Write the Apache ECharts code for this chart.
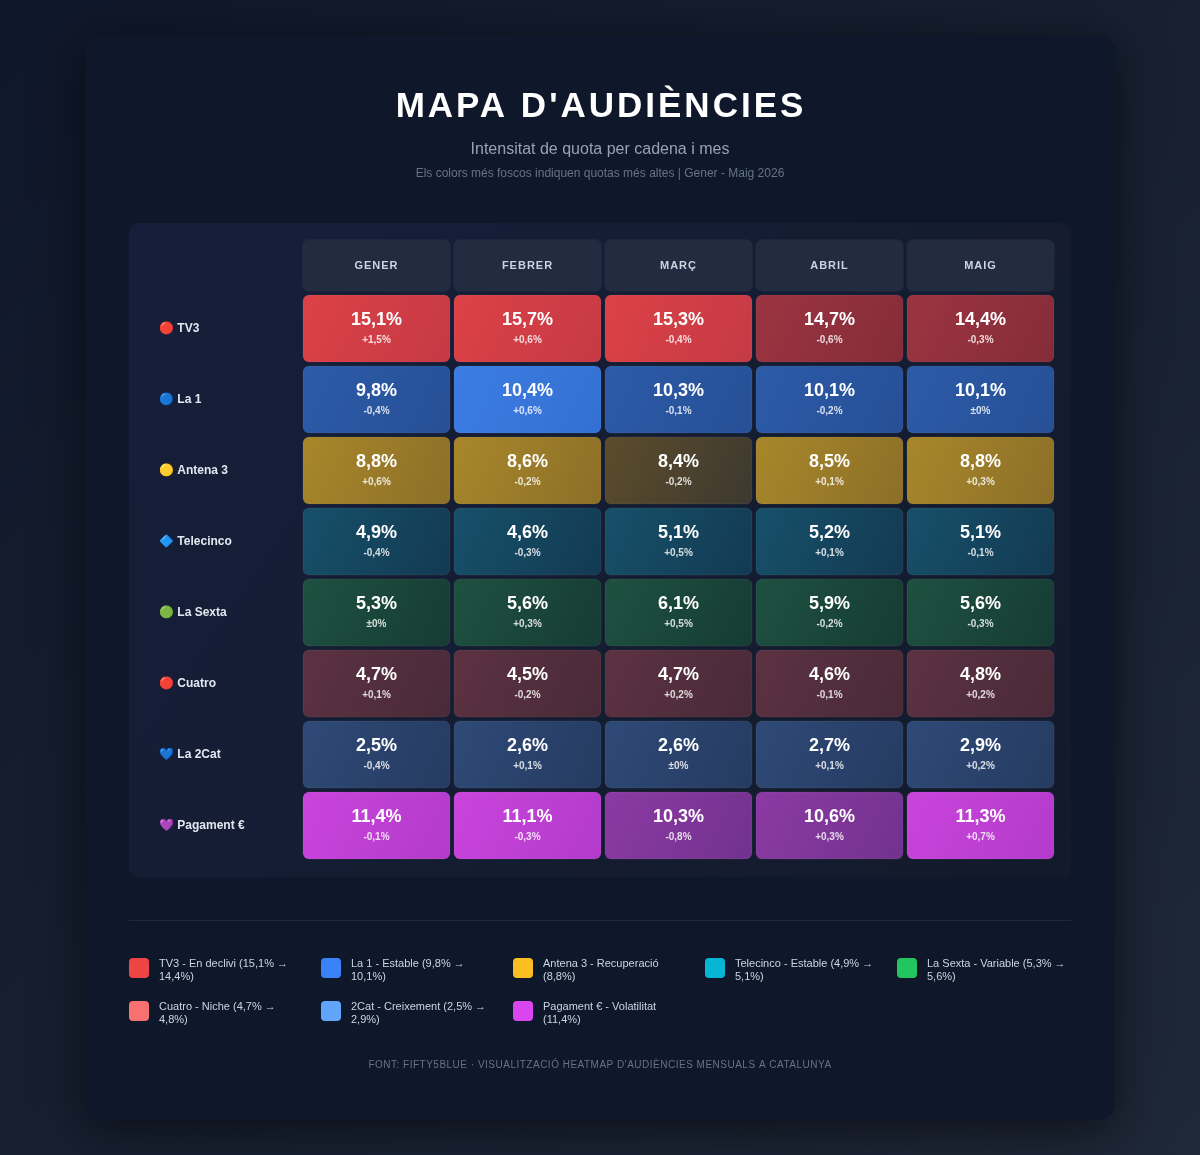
<!DOCTYPE html>
<html>
<head>
<meta charset="utf-8">
<script src="https://cdn.jsdelivr.net/npm/echarts@6/dist/echarts.min.js"></script>
<style>
html,body{margin:0;padding:0;width:1200px;height:1155px;overflow:hidden;background:#0f172a;}
#chart{width:1200px;height:1155px;}
</style>
</head>
<body>
<div id="chart"></div>
<script>
// ---------- DATA ----------
const months = ['GENER', 'FEBRER', 'MARÇ', 'ABRIL', 'MAIG'];
const channels = ['🔴 TV3', '🔵 La 1', '🟡 Antena 3', '🔷 Telecinco', '🟢 La Sexta', '🔴 Cuatro', '💙 La 2Cat', '💜 Pagament €'];
const shareTV3       = [15.1, 15.7, 15.3, 14.7, 14.4];
const shareLa1       = [9.8, 10.4, 10.3, 10.1, 10.1];
const shareAntena3   = [8.8, 8.6, 8.4, 8.5, 8.8];
const shareTelecinco = [4.9, 4.6, 5.1, 5.2, 5.1];
const shareLaSexta   = [5.3, 5.6, 6.1, 5.9, 5.6];
const shareCuatro    = [4.7, 4.5, 4.7, 4.6, 4.8];
const shareLa2Cat    = [2.5, 2.6, 2.6, 2.7, 2.9];
const sharePagament  = [11.4, 11.1, 10.3, 10.6, 11.3];
const deltaTV3       = [1.5, 0.6, -0.4, -0.6, -0.3];
const deltaLa1       = [-0.4, 0.6, -0.1, -0.2, 0];
const deltaAntena3   = [0.6, -0.2, -0.2, 0.1, 0.3];
const deltaTelecinco = [-0.4, -0.3, 0.5, 0.1, -0.1];
const deltaLaSexta   = [0, 0.3, 0.5, -0.2, -0.3];
const deltaCuatro    = [0.1, -0.2, 0.2, -0.1, 0.2];
const deltaLa2Cat    = [-0.4, 0.1, 0, 0.1, 0.2];
const deltaPagament  = [-0.1, -0.3, -0.8, 0.3, 0.7];
const legendLabels = [
  'TV3 - En declivi (15,1% → 14,4%)',
  'La 1 - Estable (9,8% → 10,1%)',
  'Antena 3 - Recuperació (8,8%)',
  'Telecinco - Estable (4,9% → 5,1%)',
  'La Sexta - Variable (5,3% → 5,6%)',
  'Cuatro - Niche (4,7% → 4,8%)',
  '2Cat - Creixement (2,5% → 2,9%)',
  'Pagament € - Volatilitat (11,4%)'
];

// ---------- STYLE ----------
const legendColors = ['#ef4444', '#3b82f6', '#fbbf24', '#06b6d4', '#22c55e', '#f87171', '#60a5fa', '#d946ef'];
// per channel: [base gradient, bright gradient], bright when value >= threshold
const cellPalette = [
  [['#9c3441', '#852c39'], ['#dc4146', '#c53a45']],
  [['#2d5ba8', '#264f96'], ['#3c7ce2', '#3470d3']],
  [['#5c4c2b', '#3d3930'], ['#a8872a', '#8c6f28']],
  [['#17506a', '#133a52'], ['#17506a', '#133a52']],
  [['#1e5141', '#163c33'], ['#1e5141', '#163c33']],
  [['#5c3242', '#4a2a38'], ['#5c3242', '#4a2a38']],
  [['#2f4a77', '#253b61'], ['#2f4a77', '#253b61']],
  [['#8b3aa3', '#72328e'], ['#c944db', '#b33bcb']]
];
const brightFrom = [15.0, 10.4, 8.5, Infinity, Infinity, Infinity, Infinity, 11.0];

const FONT = '"Liberation Sans", Arial, Helvetica, sans-serif';
const TITLE_FONT = 'bold 35px ' + FONT;
const HEADER_FONT = 'bold 11px ' + FONT;
const FOOTER_FONT = '10px ' + FONT;
const LEGEND_FONT = '11px ' + FONT;

// letter spacing for a few text styles (canvas letterSpacing), explicit for every draw
(function () {
  const t = document.createElement('canvas').getContext('2d');
  if (!('letterSpacing' in t)) return;
  const norm = f => { t.font = f; return t.font; };
  const spacing = {};
  spacing[norm(TITLE_FONT)] = '3px';
  spacing[norm(HEADER_FONT)] = '1px';
  spacing[norm(FOOTER_FONT)] = '0.5px';
  const P = CanvasRenderingContext2D.prototype;
  const orig = P.fillText;
  P.fillText = function (txt, x, y, m) {
    const f = this.font;
    const ls = spacing[f] || '0px';
    this.letterSpacing = ls;
    this.font = f;
    if (m === undefined) orig.call(this, txt, x, y); else orig.call(this, txt, x, y, m);
    this.letterSpacing = '0px';
    this.font = f;
  };
})();

const shares = [shareTV3, shareLa1, shareAntena3, shareTelecinco, shareLaSexta, shareCuatro, shareLa2Cat, sharePagament];
const deltas = [deltaTV3, deltaLa1, deltaAntena3, deltaTelecinco, deltaLaSexta, deltaCuatro, deltaLa2Cat, deltaPagament];

const fmtPct = v => v.toFixed(1).replace('.', ',') + '%';
const fmtDelta = d => d === 0 ? '±0%' : (d > 0 ? '+' : '-') + Math.abs(d).toFixed(1).replace('.', ',') + '%';

const cells = [];
const cellDelta = [];
shares.forEach((row, i) => row.forEach((v, j) => { cells.push([j, i, v]); cellDelta.push(deltas[i][j]); }));

// greedy word wrap
const mctx = document.createElement('canvas').getContext('2d');
mctx.font = LEGEND_FONT;
function wrap(text, maxW) {
  const words = text.split(' ');
  const lines = [];
  let cur = '';
  words.forEach(w => {
    const test = cur ? cur + ' ' + w : w;
    if (cur && mctx.measureText(test).width > maxW) { lines.push(cur); cur = w; } else cur = test;
  });
  if (cur) lines.push(cur);
  return lines.join('\n');
}

const chart = echarts.init(document.getElementById('chart'), null, {renderer: 'canvas'});

const legendGraphics = [];
legendLabels.forEach((t, k) => {
  const col = k % 5, row = Math.floor(k / 5);
  const x = 129 + col * 192, y = 958 + row * 43;
  legendGraphics.push({
    type: 'rect', shape: {x: x, y: y, width: 20, height: 20, r: 4},
    style: {fill: legendColors[k]}, z: 10
  });
  legendGraphics.push({
    type: 'text', x: x + 30, y: y - 1,
    style: {text: wrap(t, 140), fill: '#cbd5e1', font: LEGEND_FONT, lineHeight: 13, verticalAlign: 'top', align: 'left'},
    z: 10
  });
});

const option = {
  backgroundColor: new echarts.graphic.LinearGradient(0, 0, 1, 1, [
    {offset: 0, color: '#0f172a'}, {offset: 1, color: '#1f2838'}
  ]),
  animation: false,
  graphic: [
    {type: 'rect', shape: {x: 85, y: 35, width: 1030, height: 1085, r: 16},
     style: {fill: '#0f172a', shadowBlur: 50, shadowColor: 'rgba(0,0,0,0.55)', shadowOffsetY: 10}, z: -10},
    {type: 'rect', shape: {x: 129, y: 223, width: 942, height: 654, r: 10},
     style: {fill: new echarts.graphic.LinearGradient(0, 0, 1, 1, [
       {offset: 0, color: '#161f3a'}, {offset: 1, color: '#131a2b'}])}, z: -9},
    {type: 'text', x: 601, y: 107, style: {text: "MAPA D'AUDIÈNCIES", fill: '#ffffff', font: TITLE_FONT, align: 'center', verticalAlign: 'middle'}},
    {type: 'text', x: 600, y: 150, style: {text: 'Intensitat de quota per cadena i mes', fill: '#94a3b8', font: '16px ' + FONT, align: 'center', verticalAlign: 'middle'}},
    {type: 'text', x: 600, y: 174, style: {text: 'Els colors més foscos indiquen quotas més altes | Gener - Maig 2026', fill: '#64748b', font: '12px ' + FONT, align: 'center', verticalAlign: 'middle'}},
    {type: 'rect', shape: {x: 129, y: 920, width: 942, height: 1}, style: {fill: '#1e293b'}},
    ...legendGraphics,
    {type: 'text', x: 600, y: 1065, style: {text: "FONT: FIFTY5BLUE · VISUALITZACIÓ HEATMAP D'AUDIÈNCIES MENSUALS A CATALUNYA", fill: '#64748b', font: FOOTER_FONT, align: 'center', verticalAlign: 'middle'}}
  ],
  grid: {left: 301, top: 293, width: 755, height: 568, containLabel: false},
  xAxis: {
    type: 'category', data: months, position: 'top',
    axisLine: {show: false}, axisTick: {show: false}, splitLine: {show: false},
    axisLabel: {
      margin: 2, color: '#cbd5e1', fontFamily: FONT, fontWeight: 'bold', fontSize: 11,
      backgroundColor: '#222c40', borderRadius: 6, width: 147, height: 51, lineHeight: 50,
      align: 'center', verticalAlign: 'bottom', borderColor: 'rgba(255,255,255,0.04)', borderWidth: 1
    }
  },
  yAxis: {
    type: 'category', data: channels, inverse: true,
    axisLine: {show: false}, axisTick: {show: false}, splitLine: {show: false},
    axisLabel: {margin: 142, align: 'left', color: '#e2e8f0', fontFamily: FONT, fontWeight: 'bold', fontSize: 12}
  },
  series: [{
    type: 'custom',
    data: cells,
    renderItem: function (params, api) {
      const j = api.value(0), i = api.value(1), v = api.value(2);
      const c = api.coord([j, i]);
      const s = api.size([1, 1]);
      const w = s[0] - 4, h = s[1] - 4;
      const pal = cellPalette[i][v >= brightFrom[i] ? 1 : 0];
      return {
        type: 'group',
        children: [
          {type: 'rect', shape: {x: c[0] - w / 2, y: c[1] - h / 2, width: w, height: h, r: 6},
           style: {fill: new echarts.graphic.LinearGradient(0, 0, 1, 1, [
             {offset: 0, color: pal[0]}, {offset: 1, color: pal[1]}]),
             stroke: 'rgba(255,255,255,0.06)', lineWidth: 1}},
          {type: 'text', style: {text: fmtPct(v), x: c[0], y: c[1] - 8, align: 'center', verticalAlign: 'middle',
            fill: '#ffffff', font: 'bold 18px ' + FONT}},
          {type: 'text', style: {text: fmtDelta(cellDelta[params.dataIndex]), x: c[0], y: c[1] + 12, align: 'center', verticalAlign: 'middle',
            fill: 'rgba(255,255,255,0.82)', font: 'bold 10px ' + FONT}}
        ]
      };
    }
  }]
};
chart.setOption(option);
</script>
</body>
</html>
